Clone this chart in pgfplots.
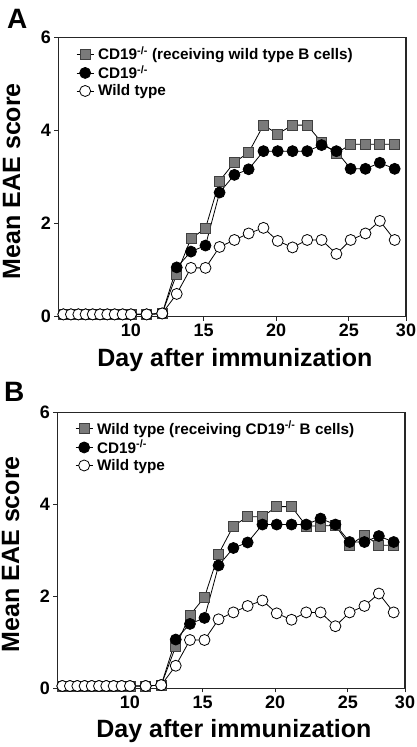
\documentclass[border=0pt]{standalone}
\usepackage{fontspec}
\setmainfont{Liberation Sans}
\usepackage{pgfplots}
\pgfplotsset{compat=1.18}
\usepackage{pgfplotstable}
\definecolor{sqfill}{HTML}{7A7A7A}
\definecolor{sqdraw}{HTML}{404040}

\pgfplotstableread{
x     wt    cd    sqa   sqb
5.35  0.05  0.05  0.05  0.05
5.87  0.05  0.05  0.05  0.05
6.38  0.05  0.05  0.05  0.05
6.88  0.05  0.05  0.05  0.05
7.37  0.05  0.05  0.05  0.05
7.87  0.05  0.05  0.05  0.05
8.37  0.05  0.05  0.05  0.05
8.88  0.05  0.05  0.05  0.05
9.43  0.05  0.05  0.05  0.05
10.0  0.05  0.05  0.05  0.05
11.08 0.05  0.05  0.05  0.05
12.15 0.07  0.07  0.07  0.07
13.15 0.49  1.06  0.92  0.91
14.13 1.05  1.40  1.68  1.59
15.13 1.05  1.53  1.90  1.98
16.10 1.50  2.67  2.92  2.92
17.12 1.65  3.05  3.32  3.53
18.10 1.79  3.17  3.53  3.73
19.12 1.91  3.56  4.12  3.73
20.10 1.63  3.56  3.93  3.95
21.12 1.49  3.56  4.12  3.95
22.13 1.65  3.56  4.12  3.53
23.12 1.65  3.69  3.75  3.53
24.14 1.35  3.56  3.51  3.54
25.12 1.65  3.18  3.71  3.11
26.14 1.79  3.18  3.71  3.33
27.13 2.06  3.31  3.71  3.11
28.15 1.65  3.18  3.71  3.11
}\data

\pgfplotsset{
 panel/.style={
  scale only axis, width=347.7pt,
  xmin=5, xmax=28.93, ymin=0, ymax=6,
  xtick={10,15,20,25,28.93}, xticklabels={10,15,20,25,30},
  ytick={0,2,4,6},
  tick align=outside, tick pos=left,
  major tick length=4pt,
  axis line style={line width=1.2pt, black!85},
  every tick/.style={line width=1pt, black!85},
  tick label style={font=\fontsize{18}{21}\selectfont\bfseries},
  /pgf/number format/assume math mode=true,
  label style={font=\fontsize{25}{29}\selectfont\bfseries},
  xlabel={Day after immunization},
  ylabel={Mean EAE score},
  xlabel style={at={(axis description cs:0.508,-0.179)}, anchor=base},
  ylabel style={at={(axis description cs:-0.134,0.486)}, anchor=center},
  clip=false,
  legend style={draw=none, fill=none, at={(axis description cs:0.051,0.972)}, anchor=north west, inner sep=0pt, row sep=2.5pt, font=\fontsize{15.3}{17.5}\selectfont\bfseries, nodes={inner xsep=4pt, inner ysep=1pt}},
  legend cell align=left,
 },
 sq/.style={black, line width=0.8pt, mark=square*, mark size=5pt, mark options={fill=sqfill, draw=sqdraw, line width=0.8pt}},
 bc/.style={black, line width=0.8pt, mark=*, mark size=5.5pt, mark options={fill=black, draw=black}},
 wc/.style={black, line width=0.8pt, mark=*, mark size=5.5pt, mark options={fill=white, draw=black}},
}

\begin{document}
\begin{tikzpicture}
\path[use as bounding box] (0,0) rectangle (416pt,747pt);
\node[anchor=base west, inner sep=0pt, font=\fontsize{28}{32}\selectfont\bfseries] at (7pt,718.7pt) {A};
\node[anchor=base west, inner sep=0pt, font=\fontsize{28}{32}\selectfont\bfseries] at (4pt,345.3pt) {B};

\begin{axis}[panel, height=279pt, at={(58.3pt,430.3pt)}, anchor=south west]
\addplot[sq] table[x=x, y=sqa] {\data};
\addlegendentry{CD19\textsuperscript{-/-} (receiving wild type B cells)}
\addplot[bc] table[x=x, y=cd] {\data};
\addlegendentry{CD19\textsuperscript{-/-}}
\addplot[wc] table[x=x, y=wt] {\data};
\addlegendentry{Wild type}
\end{axis}

\begin{axis}[panel, height=276pt, at={(57.3pt,58.7pt)}, anchor=south west]
\addplot[sq] table[x=x, y=sqb] {\data};
\addlegendentry{Wild type (receiving CD19\textsuperscript{-/-} B cells)}
\addplot[bc] table[x=x, y=cd] {\data};
\addlegendentry{CD19\textsuperscript{-/-}}
\addplot[wc] table[x=x, y=wt] {\data};
\addlegendentry{Wild type}
\end{axis}
\end{tikzpicture}
\end{document}
